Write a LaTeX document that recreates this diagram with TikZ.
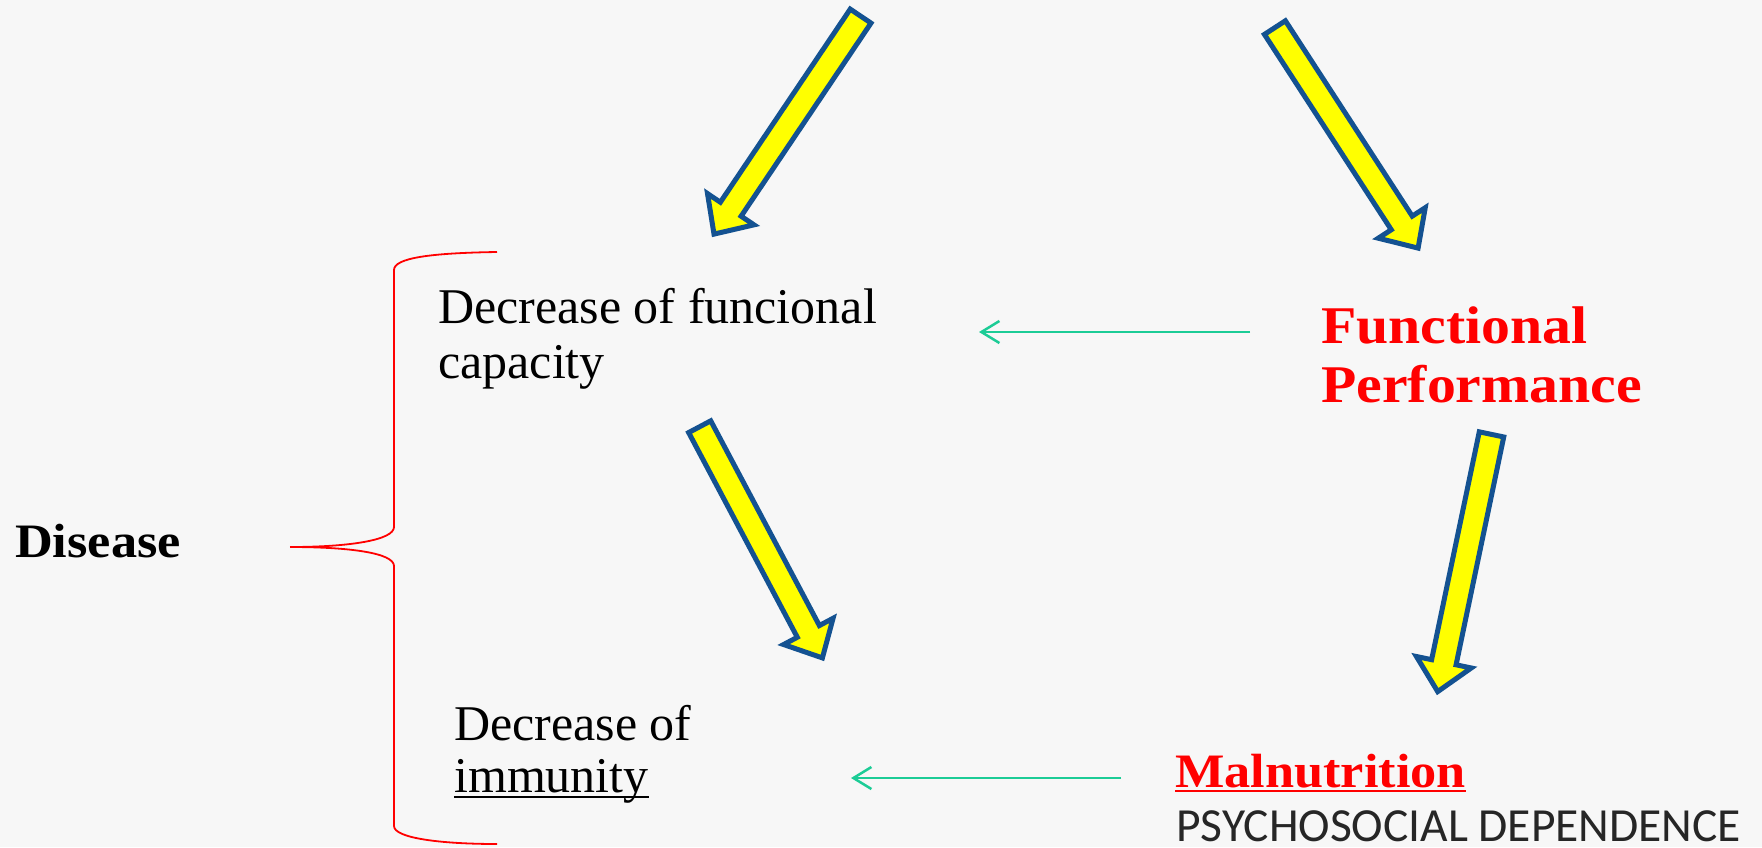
\documentclass[tikz,border=0pt]{standalone}
\usepackage{fontspec}
\setmainfont{Liberation Serif}
\newfontfamily\bserif[FakeStretch=1.09]{Liberation Serif}
\newfontfamily\calib{Carlito}
\usetikzlibrary{calc,arrows.meta}
\definecolor{bg}{RGB}{247,247,247}
\definecolor{yfill}{RGB}{255,255,0}
\definecolor{yedge}{RGB}{20,82,145}
\definecolor{brred}{RGB}{255,0,0}
\definecolor{tealc}{RGB}{28,204,150}
\definecolor{psy}{RGB}{38,38,38}
\newcommand\yarrow[3]{%
  \coordinate (#3h) at ($(#2)!30pt!(#1)$);
  \draw[blockarrow] ($(#1)!12.5pt!90:(#2)$) -- ($(#3h)!12.5pt!90:(#2)$) -- ($(#3h)!28pt!90:(#2)$) -- (#2) -- ($(#3h)!28pt!-90:(#2)$) -- ($(#3h)!12.5pt!-90:(#2)$) -- ($(#1)!12.5pt!-90:(#2)$) -- cycle;
}
\tikzset{
  blockarrow/.style={fill=yfill, draw=yedge, line width=5pt, line join=miter},
  txt/.style={inner sep=0pt, anchor=base west},
  regtxt/.style={txt, font=\fontsize{50}{55}\selectfont, text=black},
  redtxt/.style={txt, font=\bserif\bfseries\fontsize{53}{59}\selectfont, text=brred},
  tealarrow/.style={draw=tealc, line width=2.5pt, -{Straight Barb[length=18pt,width=22pt]}},
  bracestyle/.style={draw=brred, line width=1.8pt}
}
\begin{document}
\begin{tikzpicture}[x=1pt,y=-1pt]
\fill[bg] (0,0) rectangle (1762,847);
\useasboundingbox (0,0) rectangle (1762,847);

% text nodes
\node[regtxt] (dfc1) at (438,323) {Decrease of funcional};
\node[regtxt] (dfc2) at (438,378) {capacity};
\node[regtxt] (dim1) at (454,740) {Decrease of};
\node[regtxt] (dim2) at (454,792) {immunity};
\node[redtxt] (fp1) at (1321,343) {Functional};
\node[redtxt] (fp2) at (1321,402) {Performance};
\node[redtxt, font=\bserif\bfseries\fontsize{48}{54}\selectfont] (mal) at (1175,787) {Malnutrition};
\node[txt, font=\calib\fontsize{47.5}{54}\selectfont, text=psy, text depth=0pt] (psy) at (1176,841) {PSYCHOSOCIAL DEPENDENCE};
\node[txt, font=\bserif\bfseries\fontsize{48}{54}\selectfont, text=black] (dis) at (15,557) {Disease};

% underlines
\draw[brred, line width=2.5pt] ([yshift=-4pt]mal.base west) -- ([yshift=-4pt]mal.base east);
\draw[black, line width=2pt] ([yshift=-5pt]dim2.base west) -- ([yshift=-5pt]dim2.base east);

% brace
\coordinate (brtop) at (497,252);
\coordinate (brmid) at (290,547);
\coordinate (brbot) at (497,844);
\draw[bracestyle] (brtop) .. controls (430,253) and (394,258) .. (394,270) -- (394,527)
  .. controls (394,540) and (350,547) .. (brmid)
  .. controls (350,547) and (394,553) .. (394,566) -- (394,826)
  .. controls (394,838) and (440,844) .. (brbot);

% block arrows
\coordinate (a1t) at (860.6,16.1);  \coordinate (a1p) at (714,234.1);
\coordinate (a2t) at (1274.9,27.6); \coordinate (a2p) at (1418.1,248.1);
\coordinate (a3t) at (699.7,426.7); \coordinate (a3p) at (822.4,657.9);
\coordinate (a4t) at (1491.5,434.4); \coordinate (a4p) at (1437.7,691.6);
\yarrow{a1t}{a1p}{a1}
\yarrow{a2t}{a2p}{a2}
\yarrow{a3t}{a3p}{a3}
\yarrow{a4t}{a4p}{a4}

% teal arrows
\coordinate (t1s) at (1250,332); \coordinate (t1e) at (979,332);
\coordinate (t2s) at (1121,778); \coordinate (t2e) at (851,778);
\draw[tealarrow] (t1s) -- (t1e);
\draw[tealarrow] (t2s) -- (t2e);
\end{tikzpicture}
\end{document}
